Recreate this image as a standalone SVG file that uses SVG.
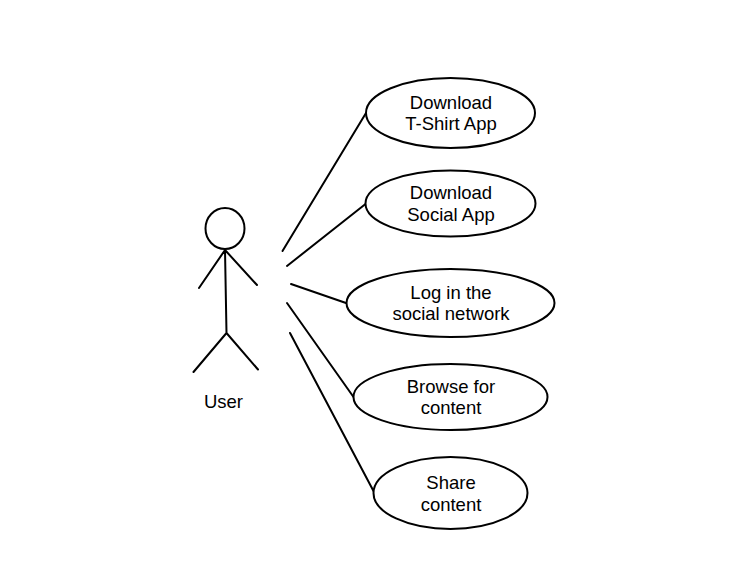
<svg xmlns="http://www.w3.org/2000/svg" width="754" height="579" viewBox="0 0 754 579">
<style>
.s{fill:#fff;stroke:#000;stroke-width:2}
.l{fill:none;stroke:#000;stroke-width:2;stroke-linecap:round}
text{font-family:"Liberation Sans",Arial,sans-serif;font-size:18.5px;fill:#000;text-anchor:middle}
</style>
<rect width="754" height="579" fill="#fff"/>
<g id="connectors">
<path class="l" d="M282.500 251L366 113"/>
<path class="l" d="M287 266L365.500 204"/>
<path class="l" d="M291 284L346 303"/>
<path class="l" d="M287 303L353.500 397"/>
<path class="l" d="M290 333L374 492"/>
</g>
<g id="user">
<ellipse class="s" cx="225" cy="228.500" rx="19.500" ry="20.500"/>
<path class="l" d="M225 250L226.500 333M225 250L199 288M225 250L257 285M226.500 333L193.500 372M226.500 333L258 369.500"/>
<text x="223.500" y="408">User</text>
</g>
<g id="download-tshirt">
<ellipse class="s" cx="450.500" cy="113" rx="84.500" ry="35"/>
<text x="451" y="108.500">Download</text><text x="451" y="130">T-Shirt App</text>
</g>
<g id="download-social">
<ellipse class="s" cx="450.500" cy="203.500" rx="85" ry="33"/>
<text x="451" y="199">Download</text><text x="451" y="220.500">Social App</text>
</g>
<g id="login">
<ellipse class="s" cx="450.500" cy="303" rx="104" ry="34"/>
<text x="451" y="299">Log in the</text><text x="451" y="320">social network</text>
</g>
<g id="browse">
<ellipse class="s" cx="450.500" cy="397" rx="97" ry="33"/>
<text x="451" y="392.500">Browse for</text><text x="451" y="414">content</text>
</g>
<g id="share">
<ellipse class="s" cx="450.500" cy="493" rx="77" ry="36"/>
<text x="451" y="489">Share</text><text x="451" y="510.500">content</text>
</g>
</svg>
